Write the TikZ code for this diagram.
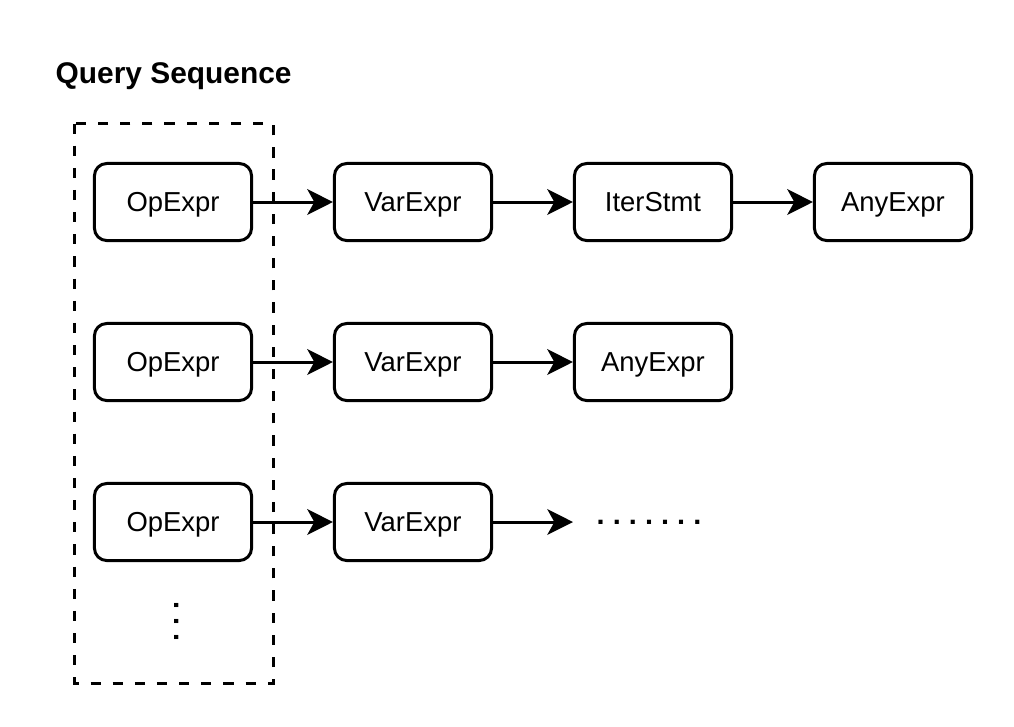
\documentclass[tikz,border=0pt]{standalone}
\usepackage{fontspec}
\setmainfont{Liberation Sans}
\usepackage{tikz}
\usetikzlibrary{arrows.meta}

\tikzset{
    exprbox/.style={draw=black, line width=0.85pt, rounded corners=3.5pt, fill=white,
        minimum width=1.57cm, minimum height=0.77cm, inner sep=0pt,
        text height=5.5pt, text depth=0pt,
        font=\fontsize{7.8}{9}\selectfont},
    seqarrow/.style={line width=0.85pt, -{Stealth[length=7.3pt, width=7.3pt, inset=2pt]}},
    seqbox/.style={line width=0.85pt, dash pattern=on 2.9pt off 3.4pt},
    dotsrow/.style={inner sep=0pt, font={\bfseries\fontsize{8.2}{10}\selectfont\frenchspacing\spaceskip 2.3pt\xspaceskip 2.3pt\relax}}
}

\begin{document}
\begin{tikzpicture}[x=0.01cm, y=-0.01cm]
    \useasboundingbox (0,0) rectangle (1014,726);

    % title
    \node[anchor=base west, inner sep=0pt, font=\bfseries\fontsize{8.5}{10}\selectfont] (title) at (55,83) {Query Sequence};

    % the dashed frame round the first column
    \draw[seqbox] (74.5,123.5) rectangle (273.5,683.5);

    % first row
    \node[exprbox] (op1) at (173,202) {OpExpr};
    \node[exprbox] (var1) at (413,202) {VarExpr};
    \node[exprbox] (iter1) at (653,202) {IterStmt};
    \node[exprbox] (any1) at (893,202) {AnyExpr};

    % second row
    \node[exprbox] (op2) at (173,362) {OpExpr};
    \node[exprbox] (var2) at (413,362) {VarExpr};
    \node[exprbox] (any2) at (653,362) {AnyExpr};

    % third row
    \node[dotsrow, anchor=base west] (more3) at (596,524) {. . . . . . .};
    \node[exprbox] (op3) at (173,522) {OpExpr};
    \node[exprbox] (var3) at (413,522) {VarExpr};
    \coordinate (end3) at (573,522);

    % more rows below
    \node[dotsrow, rotate=-90, anchor=base west] (morerows) at (175,601) {. . .};

    \draw[seqarrow] (op1) -- (var1);
    \draw[seqarrow] (var1) -- (iter1);
    \draw[seqarrow] (iter1) -- (any1);

    \draw[seqarrow] (op2) -- (var2);
    \draw[seqarrow] (var2) -- (any2);

    \draw[seqarrow] (op3) -- (var3);
    \draw[seqarrow] (var3) -- (end3);
\end{tikzpicture}
\end{document}
